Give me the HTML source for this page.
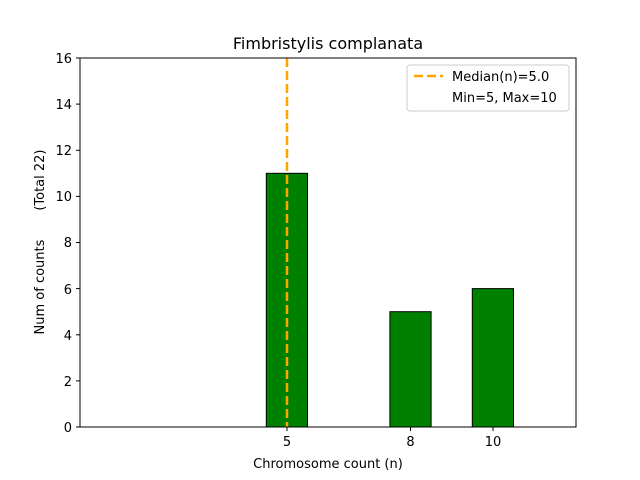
<!DOCTYPE html>
<html><head><meta charset="utf-8"><style>body{margin:0;background:#fff}svg{display:block}</style></head><body>
<svg width="640" height="480" xmlns="http://www.w3.org/2000/svg" font-family="'DejaVu Sans','Liberation Sans',sans-serif">
<rect width="640" height="480" fill="#fff"/>
<text x="328" y="49" text-anchor="middle" font-size="16">Fimbristylis complanata</text>
<g fill="#008000" stroke="#000" stroke-width="1">
<rect x="266.3" y="173.3" width="41.2" height="253.7"/>
<rect x="389.9" y="311.7" width="41.2" height="115.3"/>
<rect x="472.3" y="288.6" width="41.2" height="138.4"/>
</g>
<line x1="287" y1="58" x2="287" y2="427" stroke="#ffa500" stroke-width="2.5" stroke-dasharray="9,4"/>
<rect x="80" y="58" width="496" height="369" fill="none" stroke="#000" stroke-width="1"/>
<g font-size="13" text-anchor="end">
<g stroke="#000">
<line x1="76" y1="427" x2="80" y2="427"/><line x1="76" y1="380.9" x2="80" y2="380.9"/><line x1="76" y1="334.8" x2="80" y2="334.8"/><line x1="76" y1="288.6" x2="80" y2="288.6"/><line x1="76" y1="242.5" x2="80" y2="242.5"/><line x1="76" y1="196.4" x2="80" y2="196.4"/><line x1="76" y1="150.3" x2="80" y2="150.3"/><line x1="76" y1="104.1" x2="80" y2="104.1"/><line x1="76" y1="58" x2="80" y2="58"/>
<line x1="287" y1="427" x2="287" y2="431"/><line x1="410.5" y1="427" x2="410.5" y2="431"/><line x1="493" y1="427" x2="493" y2="431"/>
</g>
<text x="72" y="432">0</text><text x="72" y="386">2</text><text x="72" y="340">4</text><text x="72" y="294">6</text><text x="72" y="247">8</text><text x="72" y="201">10</text><text x="72" y="155">12</text><text x="72" y="109">14</text><text x="72" y="63">16</text>
</g>
<g font-size="13" text-anchor="middle">
<text x="287" y="446">5</text><text x="410.5" y="446">8</text><text x="493" y="446">10</text>
<text x="328" y="468">Chromosome count (n)</text>
<text transform="translate(44,242) rotate(-90)" style="white-space:pre">Num of counts       (Total 22)</text>
</g>
<rect x="407" y="65" width="162" height="46" rx="3" fill="#fff" fill-opacity="0.8" stroke="#ccc"/>
<line x1="414" y1="76" x2="443" y2="76" stroke="#ffa500" stroke-width="2.5" stroke-dasharray="9,4"/>
<text x="452" y="81" font-size="13">Median(n)=5.0</text>
<text x="452" y="102" font-size="13">Min=5, Max=10</text>
</svg>
</body></html>
